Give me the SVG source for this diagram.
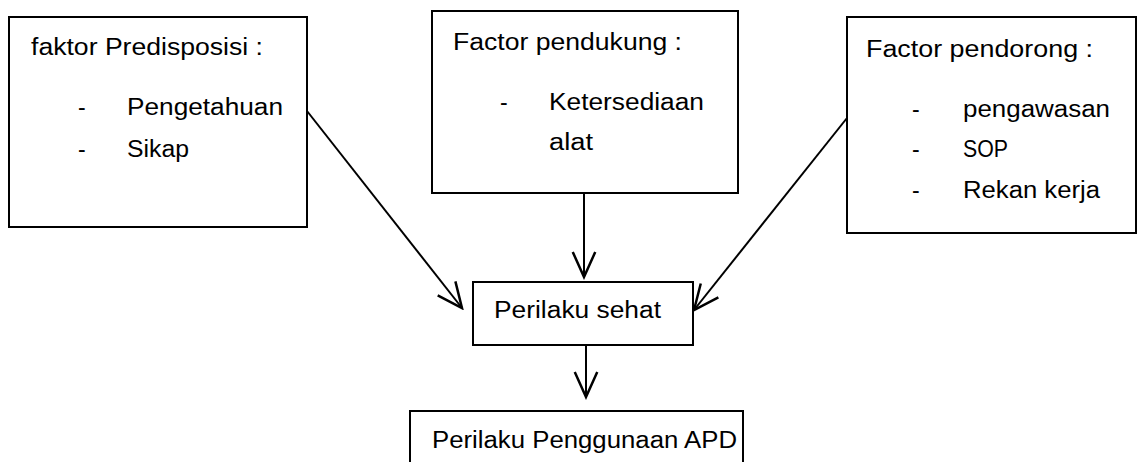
<svg xmlns="http://www.w3.org/2000/svg" width="1140" height="462" viewBox="0 0 1140 462">
<style>
.box{fill:#fff;stroke:#000;stroke-width:2}
.t{font-family:"Liberation Sans",Arial,sans-serif;font-size:23px;fill:#000}
.c{fill:none;stroke:#000;stroke-width:2}
</style>
<defs>
<marker id="ah" markerUnits="userSpaceOnUse" markerWidth="30" markerHeight="30" viewBox="-22 -11 24 22" refX="0" refY="0" orient="auto">
<path d="M-20,-9 L0,0 L-20,9" fill="none" stroke="#000" stroke-width="2"/>
</marker>
</defs>
<rect width="1140" height="462" fill="#fff"/>
<g id="predisposisi">
<rect class="box" x="9" y="17" width="298" height="210"/>
<text class="t" x="31" y="55" textLength="232" lengthAdjust="spacingAndGlyphs">faktor Predisposisi :</text>
<text class="t" x="78" y="115">-</text>
<text class="t" x="127" y="115" textLength="156" lengthAdjust="spacingAndGlyphs">Pengetahuan</text>
<text class="t" x="78" y="157">-</text>
<text class="t" x="127" y="157" textLength="62" lengthAdjust="spacingAndGlyphs">Sikap</text>
</g>
<g id="pendukung">
<rect class="box" x="432" y="11" width="306" height="182"/>
<text class="t" x="453" y="50" textLength="229" lengthAdjust="spacingAndGlyphs">Factor pendukung :</text>
<text class="t" x="500" y="110">-</text>
<text class="t" x="549" y="110" textLength="155" lengthAdjust="spacingAndGlyphs">Ketersediaan</text>
<text class="t" x="549" y="150" textLength="44" lengthAdjust="spacingAndGlyphs">alat</text>
</g>
<g id="pendorong">
<rect class="box" x="847" y="17" width="289" height="216"/>
<text class="t" x="866" y="57" textLength="227" lengthAdjust="spacingAndGlyphs">Factor pendorong :</text>
<text class="t" x="912" y="117">-</text>
<text class="t" x="963" y="117" textLength="147" lengthAdjust="spacingAndGlyphs">pengawasan</text>
<text class="t" x="912" y="157">-</text>
<text class="t" x="963" y="157" textLength="45" lengthAdjust="spacingAndGlyphs">SOP</text>
<text class="t" x="912" y="198">-</text>
<text class="t" x="963" y="198" textLength="137" lengthAdjust="spacingAndGlyphs">Rekan kerja</text>
</g>
<g id="perilaku-sehat">
<rect class="box" x="473" y="282" width="220" height="63"/>
<text class="t" x="494" y="318" textLength="167" lengthAdjust="spacingAndGlyphs">Perilaku sehat</text>
</g>
<g id="perilaku-apd">
<rect class="box" x="410" y="411" width="333" height="60"/>
<text class="t" x="432" y="448" textLength="305" lengthAdjust="spacingAndGlyphs">Perilaku Penggunaan APD</text>
</g>
<g id="connectors">
<line class="c" x1="307" y1="111" x2="462" y2="308" marker-end="url(#ah)"/>
<line class="c" x1="584" y1="193" x2="584" y2="277" marker-end="url(#ah)"/>
<line class="c" x1="847" y1="118" x2="694" y2="310" marker-end="url(#ah)"/>
<line class="c" x1="586" y1="345" x2="586" y2="397" marker-end="url(#ah)"/>
</g>
</svg>
